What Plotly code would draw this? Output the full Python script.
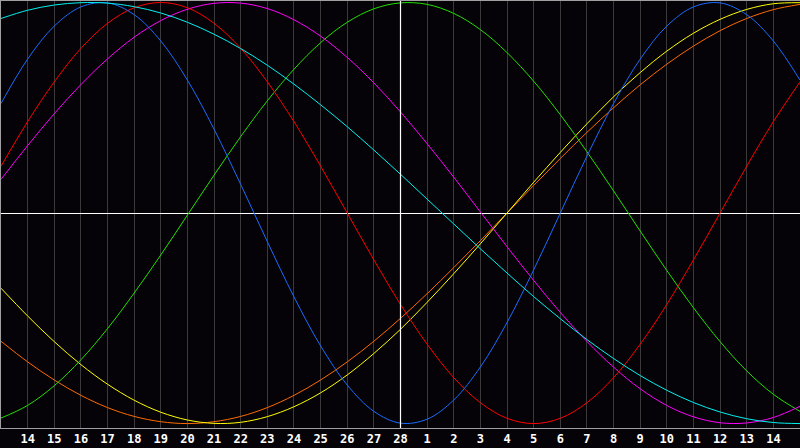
import plotly.graph_objects as go

# Day positions (0 = day 13 at left edge, 30 = day 15 at right edge)
day_index = list(range(31))
tick_index = list(range(1, 30))
tick_labels = ["14", "15", "16", "17", "18", "19", "20", "21", "22", "23", "24", "25", "26", "27", "28",
               "1", "2", "3", "4", "5", "6", "7", "8", "9", "10", "11", "12", "13", "14"]
today_index = 15

# Curve values (one value per day position)
physical = [0.520, 0.731, 0.888, 0.979, 0.998, 0.942, 0.817, 0.631, 0.398, 0.136,
            -0.136, -0.398, -0.631, -0.817, -0.942, -0.998, -0.979, -0.888, -0.731, -0.520,
            -0.270, 0.0, 0.270, 0.520, 0.731, 0.888, 0.979, 0.998, 0.942, 0.817, 0.631]
emotional = [0.2225, 0.434, 0.623, 0.782, 0.901, 0.975, 1.000, 0.975, 0.901, 0.782,
             0.623, 0.434, 0.2225, 0.0, -0.2225, -0.434, -0.623, -0.782, -0.901, -0.975,
             -1.000, -0.975, -0.901, -0.782, -0.623, -0.434, -0.2225, 0.0, 0.2225, 0.434, 0.623]
intellectual = [-0.974, -0.9135, -0.820, -0.697, -0.549, -0.380, -0.199, -0.0096, 0.180, 0.363,
                0.533, 0.683, 0.809, 0.906, 0.970, 0.998, 0.991, 0.948, 0.871, 0.762,
                0.626, 0.467, 0.291, 0.105, -0.0856, -0.273, -0.450, -0.611, -0.750, -0.861, -0.942]
intuitive = [0.160, 0.320, 0.472, 0.610, 0.732, 0.835, 0.914, 0.968, 0.996, 0.997,
             0.971, 0.918, 0.840, 0.739, 0.618, 0.480, 0.329, 0.170, 0.005, -0.160,
             -0.320, -0.472, -0.610, -0.732, -0.835, -0.914, -0.968, -0.996, -0.997, -0.971, -0.918]
aesthetic = [-0.357, -0.489, -0.611, -0.720, -0.813, -0.889, -0.946, -0.983, -0.999, -0.994,
             -0.967, -0.920, -0.854, -0.769, -0.667, -0.552, -0.424, -0.288, -0.146, 0.0,
             0.146, 0.288, 0.424, 0.552, 0.667, 0.769, 0.854, 0.920, 0.967, 0.994, 0.999]
awareness = [-0.609, -0.707, -0.793, -0.866, -0.924, -0.966, -0.991, -1.0, -0.991, -0.966,
             -0.924, -0.866, -0.793, -0.707, -0.609, -0.5, -0.383, -0.259, -0.131, 0.0,
             0.131, 0.259, 0.383, 0.5, 0.609, 0.707, 0.793, 0.866, 0.924, 0.966, 0.991]
spiritual = [0.924, 0.963, 0.988, 0.999, 0.997, 0.980, 0.950, 0.906, 0.849, 0.781,
             0.702, 0.612, 0.514, 0.410, 0.299, 0.184, 0.066, -0.052, -0.170, -0.285,
             -0.397, -0.502, -0.601, -0.691, -0.772, -0.842, -0.900, -0.945, -0.977, -0.995, -1.000]

series = [
    ("Awareness", awareness, "#ff6a00"),
    ("Aesthetic", aesthetic, "#ffff00"),
    ("Intellectual", intellectual, "#22e000"),
    ("Intuitive", intuitive, "#ff00ff"),
    ("Emotional", emotional, "#ff0000"),
    ("Physical", physical, "#1a6cff"),
    ("Spiritual", spiritual, "#00f0f0"),
]

fig = go.Figure()
for name, vals, color in series:
    fig.add_trace(go.Scatter(
        x=day_index, y=vals, mode="lines", name=name,
        line=dict(color=color, width=1, shape="spline", smoothing=1.0),
        hoverinfo="skip",
    ))

fig.add_shape(type="line", xref="x", yref="paper", x0=today_index, x1=today_index,
              y0=0, y1=1, line=dict(color="#ffffff", width=1.2), layer="above")

fig.update_layout(
    width=800, height=448,
    margin=dict(l=1, r=0, t=1, b=20),
    paper_bgcolor="#050307",
    plot_bgcolor="#050307",
    showlegend=False,
    xaxis=dict(
        range=[0, 30], tickmode="array", tickvals=tick_index, ticktext=tick_labels,
        showgrid=True, gridcolor="#3a3a3a", gridwidth=1,
        zeroline=False, ticks="", showline=True, linecolor="#a0a0a0", linewidth=1,
        mirror=True,
        tickfont=dict(family="DejaVu Sans Mono", size=12, color="#ffffff", weight="bold"),
        fixedrange=True,
    ),
    yaxis=dict(
        range=[-1.021, 1.007], showgrid=False, showticklabels=False, ticks="",
        zeroline=True, zerolinecolor="#ffffff", zerolinewidth=1.2,
        showline=True, linecolor="#a0a0a0", linewidth=1, mirror=False,
        fixedrange=True,
    ),
)

fig.write_html(
    "out.html",
    config={"displayModeBar": False},
    post_script="document.body.style.margin='0';document.body.style.background='#050307';",
)
